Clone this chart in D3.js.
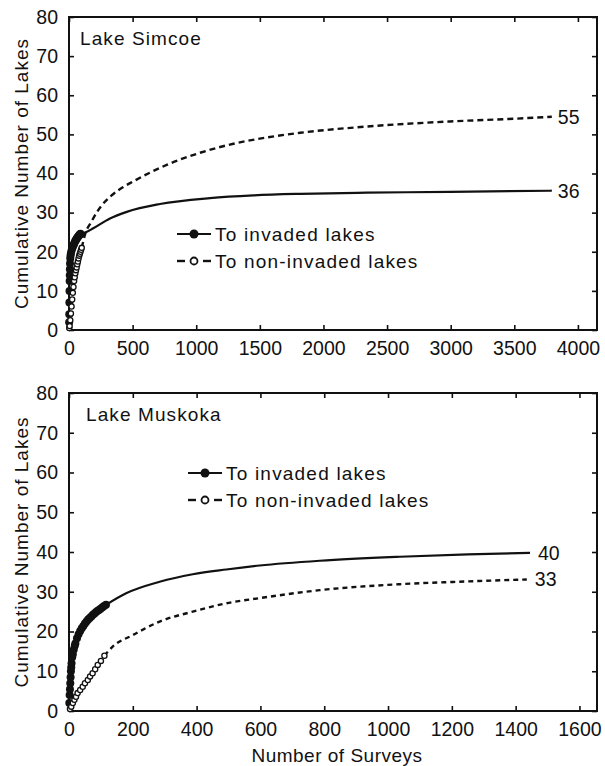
<!DOCTYPE html>
<html>
<head>
<meta charset="utf-8">
<script src="https://cdn.jsdelivr.net/npm/d3@7"></script>
<style>
  body { margin: 0; background: #fff; }
  text { font-family: "Liberation Sans", Arial, Helvetica, sans-serif; fill: #111; }
</style>
</head>
<body>
<svg id="chart" width="605" height="766"></svg>
<script>
// --- data: [number of surveys, cumulative number of lakes] ---
const simcoeInvadedPts = [[1,2],[2,4],[3,7],[4,10],[5,12.5],[6,14],[7,15.5],[8,17],[10,18.3],[12,19],[15,19.6],[20,20.3],[25,20.8],[30,21.3],[35,21.7],[40,22],[45,22.4],[50,22.8],[55,23],[60,23.3],[65,23.6],[70,23.8],[75,24],[80,24.2],[85,24.4],[90,24.6]];
const simcoeNonInvPts = [[2,0.5],[5,1],[10,2.5],[15,4.2],[20,6],[25,7.8],[30,9.5],[35,11],[40,12.5],[45,13.5],[50,14.5],[55,15.3],[60,16],[65,16.8],[70,17.5],[75,18.3],[80,19],[85,19.5],[90,20],[95,20.5],[100,21]];
const simcoeInvadedCurve = [[90,24.6],[126,24.9],[191,26],[322,28.5],[454,30.2],[715,32.2],[1108,33.7],[1449,34.4],[1816,34.8],[2340,35.1],[2995,35.3],[3795,35.6]];
const simcoeNonInvCurve = [[100,21],[130,24.8],[177,27.7],[217,30],[256,31.8],[335,34.4],[420,36.4],[506,38],[768,42.2],[1030,45.3],[1292,47.6],[1554,49.2],[1816,50.4],[2340,52],[2995,53.3],[3500,54],[3795,54.5]];
const simcoeEndLabels = ["36", "55"];

const muskokaInvadedPts = [[1,2],[2,4],[3,5.5],[4,7],[5,8.5],[6,10],[7,11],[8,12],[10,13.5],[12,14.3],[15,15.5],[18,16.4],[20,17],[25,18.3],[30,19.3],[35,20.1],[40,20.8],[45,21.4],[50,22],[55,22.5],[60,23],[65,23.4],[70,23.8],[75,24.2],[80,24.5],[85,24.9],[90,25.2],[95,25.5],[100,25.8],[105,26.1],[110,26.4],[116,26.7]];
const muskokaNonInvPts = [[3,0.5],[7,1.1],[12,2],[17,2.8],[22,3.6],[27,4.5],[35,5.3],[43,6.1],[50,7],[59,7.8],[66,8.7],[74,9.5],[82,10.5],[90,11.6],[100,12.6],[111,13.9]];
const muskokaInvadedCurve = [[116,26.7],[179,29.6],[284,32.5],[388,34.4],[493,35.6],[598,36.6],[786,37.8],[1037,38.8],[1250,39.4],[1445,39.8]];
const muskokaNonInvCurve = [[111,13.9],[137,16.2],[200,19.1],[284,22.5],[388,25],[493,27.1],[598,28.4],[786,30.4],[1037,31.9],[1250,32.6],[1435,33.1]];
const muskokaEndLabels = ["40", "33"];

const simcoeXTicks = [0, 500, 1000, 1500, 2000, 2500, 3000, 3500, 4000];
const muskokaXTicks = [0, 200, 400, 600, 800, 1000, 1200, 1400, 1600];
const yTicks = [0, 10, 20, 30, 40, 50, 60, 70, 80];
const legendLabels = ["To invaded lakes", "To non-invaded lakes"];

const svg = d3.select('#chart');

function drawPanel(p) {
    const x = d3.scaleLinear().domain([0, p.xMax]).range([69, 597]);
    const y = d3.scaleLinear().domain([0, 80]).range([p.bottom, p.top]);
    const g = svg.append('g');

    // axes, ticks pointing inward on all four sides
    const styleAxis = sel => {
        sel.select('.domain').remove();
        sel.selectAll('line').attr('stroke', '#111').attr('stroke-width', 1.6);
        sel.selectAll('text').style('font-size', '19.5px').attr('fill', '#111')
            .style('font-family', '"Liberation Sans", Arial, sans-serif');
    };
    g.append('g').attr('transform', `translate(0,${p.bottom})`)
        .call(d3.axisBottom(x).tickValues(p.xTicks).tickFormat(d3.format('d'))
            .tickSizeInner(-5).tickSizeOuter(0).tickPadding(11))
        .call(styleAxis);
    g.append('g').attr('transform', `translate(0,${p.top})`)
        .call(d3.axisTop(x).tickValues(p.xTicks).tickFormat('').tickSizeInner(-5).tickSizeOuter(0))
        .call(styleAxis);
    g.append('g').attr('transform', 'translate(69,0)')
        .call(d3.axisLeft(y).tickValues(yTicks).tickSizeInner(-5).tickSizeOuter(0).tickPadding(11))
        .call(styleAxis);
    g.append('g').attr('transform', 'translate(597,0)')
        .call(d3.axisRight(y).tickValues(yTicks).tickFormat('').tickSizeInner(-5).tickSizeOuter(0))
        .call(styleAxis);

    g.append('rect')
        .attr('x', 69).attr('y', p.top)
        .attr('width', 597 - 69).attr('height', p.bottom - p.top)
        .attr('fill', 'none').attr('stroke', '#111').attr('stroke-width', 2);

    const line = d3.line().x(d => x(d[0])).y(d => y(d[1])).curve(d3.curveMonotoneX);

    g.append('path').datum(p.invCurve)
        .attr('d', line).attr('fill', 'none')
        .attr('stroke', '#111').attr('stroke-width', 2.2);
    g.append('path').datum(p.nonCurve)
        .attr('d', line).attr('fill', 'none')
        .attr('stroke', '#111').attr('stroke-width', 2.4)
        .attr('stroke-dasharray', p.dash);

    g.append('g').selectAll('circle')
        .data(p.invPts).enter().append('circle')
        .attr('cx', d => x(d[0])).attr('cy', d => y(d[1]))
        .attr('r', 4).attr('fill', '#111');
    g.append('g').selectAll('circle')
        .data(p.nonPts).enter().append('circle')
        .attr('cx', d => x(d[0])).attr('cy', d => y(d[1]))
        .attr('r', 2.6).attr('fill', '#fff')
        .attr('stroke', '#111').attr('stroke-width', 1.3);

    // end-of-curve values
    const ends = [p.invCurve[p.invCurve.length - 1], p.nonCurve[p.nonCurve.length - 1]];
    g.selectAll('.endlab').data(ends).enter().append('text')
        .attr('x', d => x(d[0]) + p.endGap).attr('y', d => y(d[1]))
        .attr('dy', '0.35em').style('font-size', '19.5px')
        .text((d, i) => p.endLabels[i]);

    // panel name
    g.append('text').attr('x', p.nameX).attr('y', p.top + 28)
        .style('font-size', '19px').style('letter-spacing', '1.1px')
        .text(p.name);

    // legend
    const lg = g.append('g').attr('transform', `translate(${p.legX},${p.legY})`);
    lg.append('line').attr('x1', 0).attr('x2', 34).attr('y1', 0).attr('y2', 0)
        .attr('stroke', '#111').attr('stroke-width', 2.2);
    lg.append('circle').attr('cx', 17).attr('cy', 0).attr('r', 4.5).attr('fill', '#111');
    [[0, 8], [26, 34]].forEach(s => {
        lg.append('line').attr('x1', s[0]).attr('x2', s[1]).attr('y1', 27).attr('y2', 27)
            .attr('stroke', '#111').attr('stroke-width', 2.4);
    });
    lg.append('circle').attr('cx', 17).attr('cy', 27).attr('r', 3.5)
        .attr('fill', '#fff').attr('stroke', '#111').attr('stroke-width', 1.8);
    lg.selectAll('.lt').data(legendLabels).enter().append('text')
        .attr('x', 38).attr('y', (d, i) => i * 27 + 7)
        .style('font-size', '19px').style('letter-spacing', '1.2px')
        .text(d => d);

    // y title
    g.append('text')
        .attr('transform', `translate(28,${(p.top + p.bottom) / 2}) rotate(-90)`)
        .attr('text-anchor', 'middle')
        .style('font-size', '19px').style('letter-spacing', '1px')
        .text('Cumulative Number of Lakes');
}

drawPanel({
    name: 'Lake Simcoe', nameX: 80, top: 17, bottom: 330, xMax: 4150, xTicks: simcoeXTicks,
    invPts: simcoeInvadedPts, nonPts: simcoeNonInvPts,
    invCurve: simcoeInvadedCurve, nonCurve: simcoeNonInvCurve,
    endLabels: simcoeEndLabels, endGap: 6, dash: '6,4', legX: 177, legY: 234
});

drawPanel({
    name: 'Lake Muskoka', nameX: 86, top: 393, bottom: 711, xMax: 1655, xTicks: muskokaXTicks,
    invPts: muskokaInvadedPts, nonPts: muskokaNonInvPts,
    invCurve: muskokaInvadedCurve, nonCurve: muskokaNonInvCurve,
    endLabels: muskokaEndLabels, endGap: 8, dash: '5,4', legX: 188, legY: 473
});

svg.append('text')
    .attr('x', 337).attr('y', 762)
    .attr('text-anchor', 'middle')
    .style('font-size', '19px').style('letter-spacing', '0.5px')
    .text('Number of Surveys');
</script>
</body>
</html>
